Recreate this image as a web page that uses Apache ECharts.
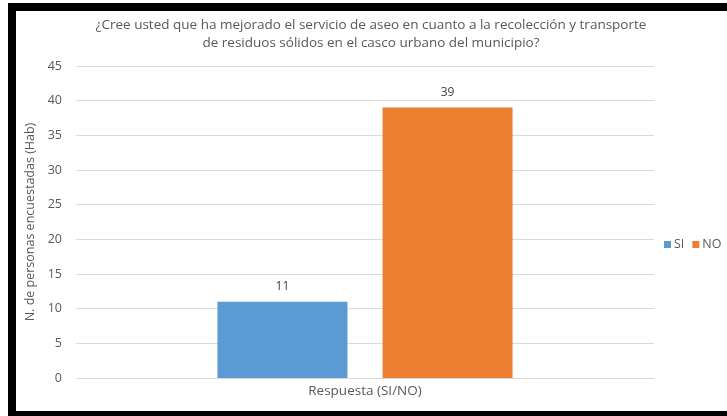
<!DOCTYPE html>
<html><head><meta charset="utf-8">
<script src="https://cdn.jsdelivr.net/npm/echarts@6/dist/echarts.min.js"></script>
<style>html,body{margin:0;padding:0;background:#fff}#c{width:727px;height:416px}</style>
</head><body><div id="c"></div>
<script>
const titleText = '¿Cree usted que ha mejorado el servicio de aseo en cuanto a la recolección y transporte\nde residuos sólidos en el casco urbano del municipio?';
const categories = ['Respuesta (SI/NO)'];
const seriesNames = ['SI', 'NO'];
const siValues = [11];
const noValues = [39];
const yAxisName = 'N. de personas encuestadas (Hab)';
const yMin = 0, yMax = 45, yInterval = 5;

const chart = echarts.init(document.getElementById('c'), null, {renderer: 'canvas'});
const font = 'Open Sans';
chart.setOption({
  animation: false,
  textStyle: {fontFamily: font},
  title: {
    text: titleText, left: 366, top: 11, textAlign: 'center',
    textStyle: {fontSize: 13.5, fontWeight: 'normal', color: '#595959', lineHeight: 18, fontFamily: font}
  },
  legend: {
    data: seriesNames, left: 659, top: 233, width: 300, itemWidth: 7, itemHeight: 7, itemGap: 8,
    icon: 'rect',
    textStyle: {fontSize: 12.5, color: '#595959', padding: [0, 0, 0, -2]}
  },
  grid: {left: 76, right: 73, top: 66, bottom: 38},
  xAxis: {
    type: 'category', data: categories,
    axisLine: {lineStyle: {color: '#d9d9d9'}}, axisTick: {show: false},
    axisLabel: {color: '#595959', fontSize: 13.5, margin: 6}
  },
  yAxis: {
    type: 'value', min: yMin, max: yMax, interval: yInterval,
    name: yAxisName, nameLocation: 'middle', nameRotate: 90, nameGap: 38,
    nameTextStyle: {color: '#595959', fontSize: 12.5},
    axisLine: {show: false}, axisTick: {show: false},
    axisLabel: {color: '#595959', fontSize: 12.5, margin: 14},
    splitLine: {lineStyle: {color: '#d9d9d9'}}
  },
  series: [
    {name: 'SI', type: 'bar', data: siValues, barWidth: 130, barGap: '27%',
     itemStyle: {color: '#5B9BD5'},
     label: {show: true, position: 'top', color: '#404040', fontSize: 12, distance: 9}},
    {name: 'NO', type: 'bar', data: noValues, barWidth: 130,
     itemStyle: {color: '#ED7D31'},
     label: {show: true, position: 'top', color: '#404040', fontSize: 12, distance: 9}}
  ],
  graphic: [
    {type: 'rect', shape: {x: 8, y: 3, width: 719, height: 8}, style: {fill: '#000'}},
    {type: 'rect', shape: {x: 8, y: 3, width: 8, height: 413}, style: {fill: '#000'}},
    {type: 'rect', shape: {x: 8, y: 411, width: 719, height: 5}, style: {fill: '#000'}}
  ]
});
</script></body></html>
